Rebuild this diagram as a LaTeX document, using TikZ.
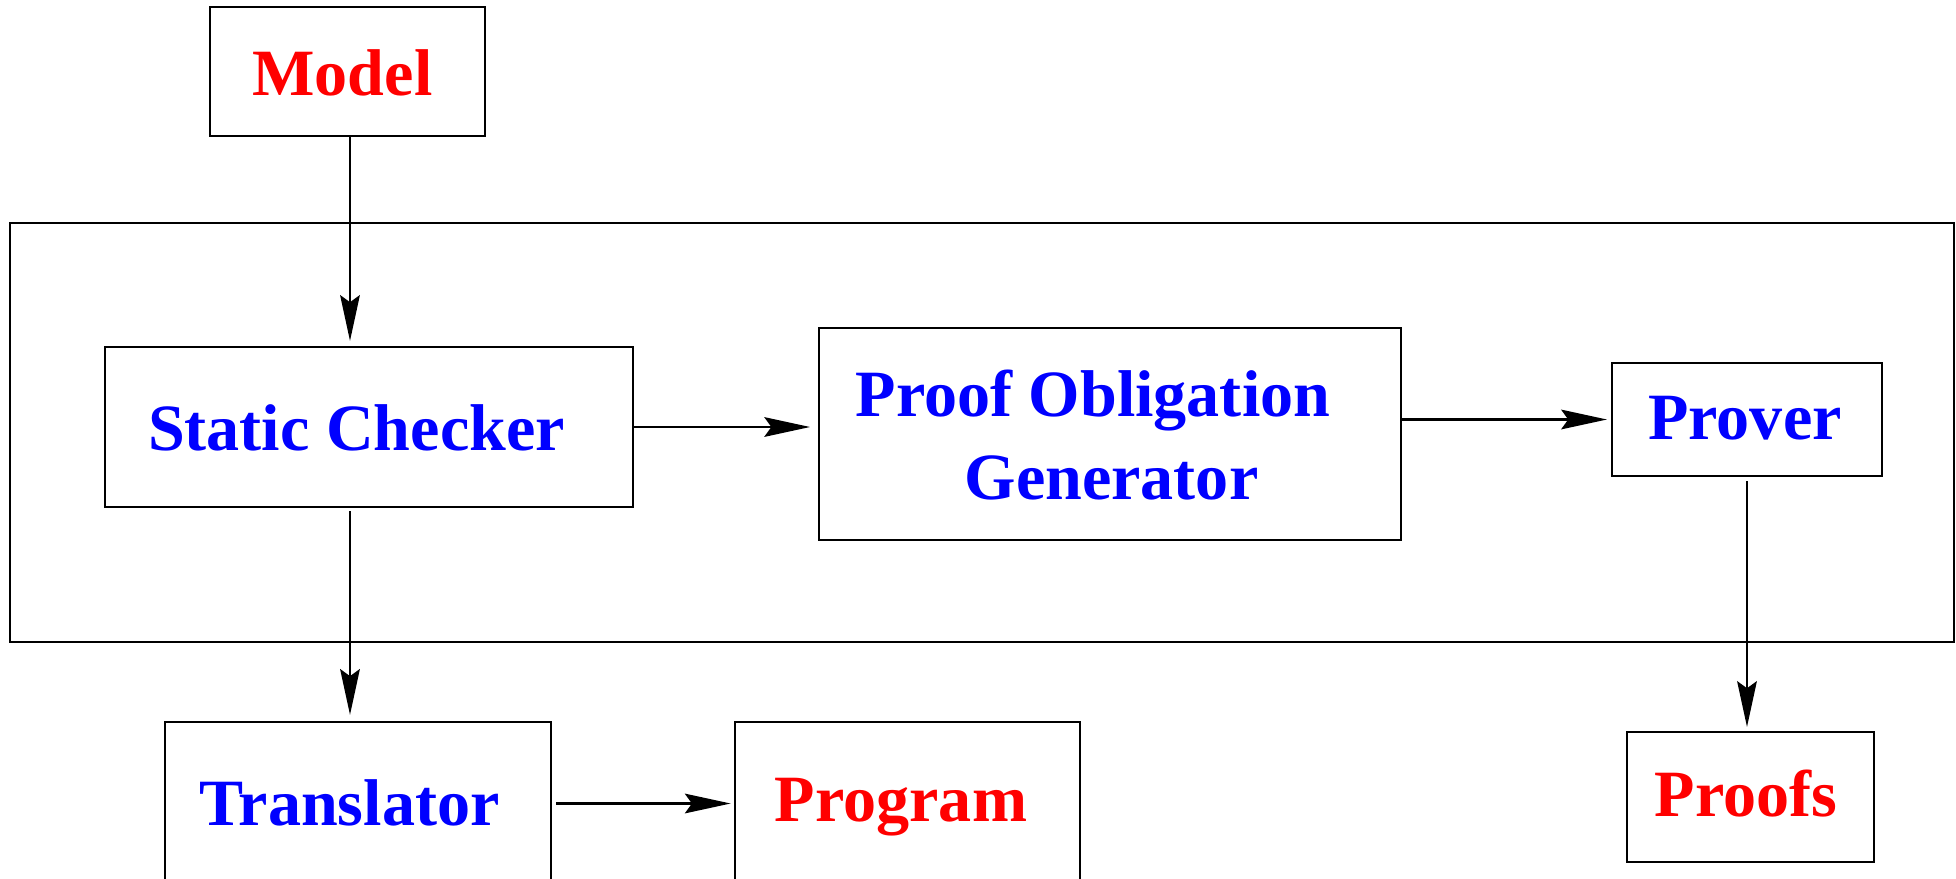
\documentclass[tikz,border=0pt]{standalone}
\usepackage{fontspec}
\setmainfont{Liberation Serif}
\usetikzlibrary{arrows.meta,fit}
\begin{document}
\begin{tikzpicture}[x=0.01cm,y=-0.01cm,
  stage/.style={draw=black,line width=0.7pt,inner sep=0pt,rectangle},
  flow/.style={draw=black,line width=0.6pt,-{Stealth[length=13pt,width=5.6pt,inset=2pt]}},
  tool/.style={text=blue,font=\fontsize{18.8pt}{22pt}\selectfont\bfseries,inner sep=0pt,anchor=base},
  artefact/.style={tool,text=red}]
\useasboundingbox (0,0) rectangle (1956,878);

% enclosing tool chain
\node[stage, fit={(10,223) (1954,642)}] (system) {};

% boxes
\node[stage, fit={(210,7) (485,136)}] (model) {};
\node[stage, fit={(105,347) (633,507)}] (checker) {};
\node[stage, fit={(819,328) (1401,540)}] (pog) {};
\node[stage, fit={(1612,363) (1882,476)}] (prover) {};
\node[stage, fit={(165,722) (551,885)}] (translator) {};
\node[stage, fit={(735,722) (1080,885)}] (program) {};
\node[stage, fit={(1627,732) (1874,862)}] (proofs) {};

% labels
\node[artefact] (modeltext) at (342.5,95) {Model};
\node[tool] (checkertext) at (356.5,450) {Static Checker};
\node[tool] (pogtext1) at (1093,416) {Proof Obligation};
\node[tool] (pogtext2) at (1111.5,499) {Generator};
\node[tool] (provertext) at (1745,439) {Prover};
\node[tool] (translatortext) at (349.5,825) {Translator};
\node[artefact] (programtext) at (901,821) {Program};
\node[artefact] (proofstext) at (1746,816) {Proofs};

% connectors
\coordinate (spine) at (350,0);
\draw[flow, shorten >=1.4pt] (model.south -| spine) -- (checker.north -| spine);
\draw[flow, shorten >=2.2pt] (checker.east) -- (checker.east -| pog.west);
\draw[flow, shorten >=1.1pt] (prover.west -| pog.east) -- (prover.west);
\draw[flow, shorten <=0.9pt, shorten >=1.7pt] (checker.south -| spine) -- (translator.north -| spine);
\draw[flow, shorten <=1.1pt, shorten >=0.9pt] (translator.east) -- (program.west);
\draw[flow, shorten <=1.1pt, shorten >=1.1pt] (prover.south) -- (prover.south |- proofs.north);
\end{tikzpicture}
\end{document}
